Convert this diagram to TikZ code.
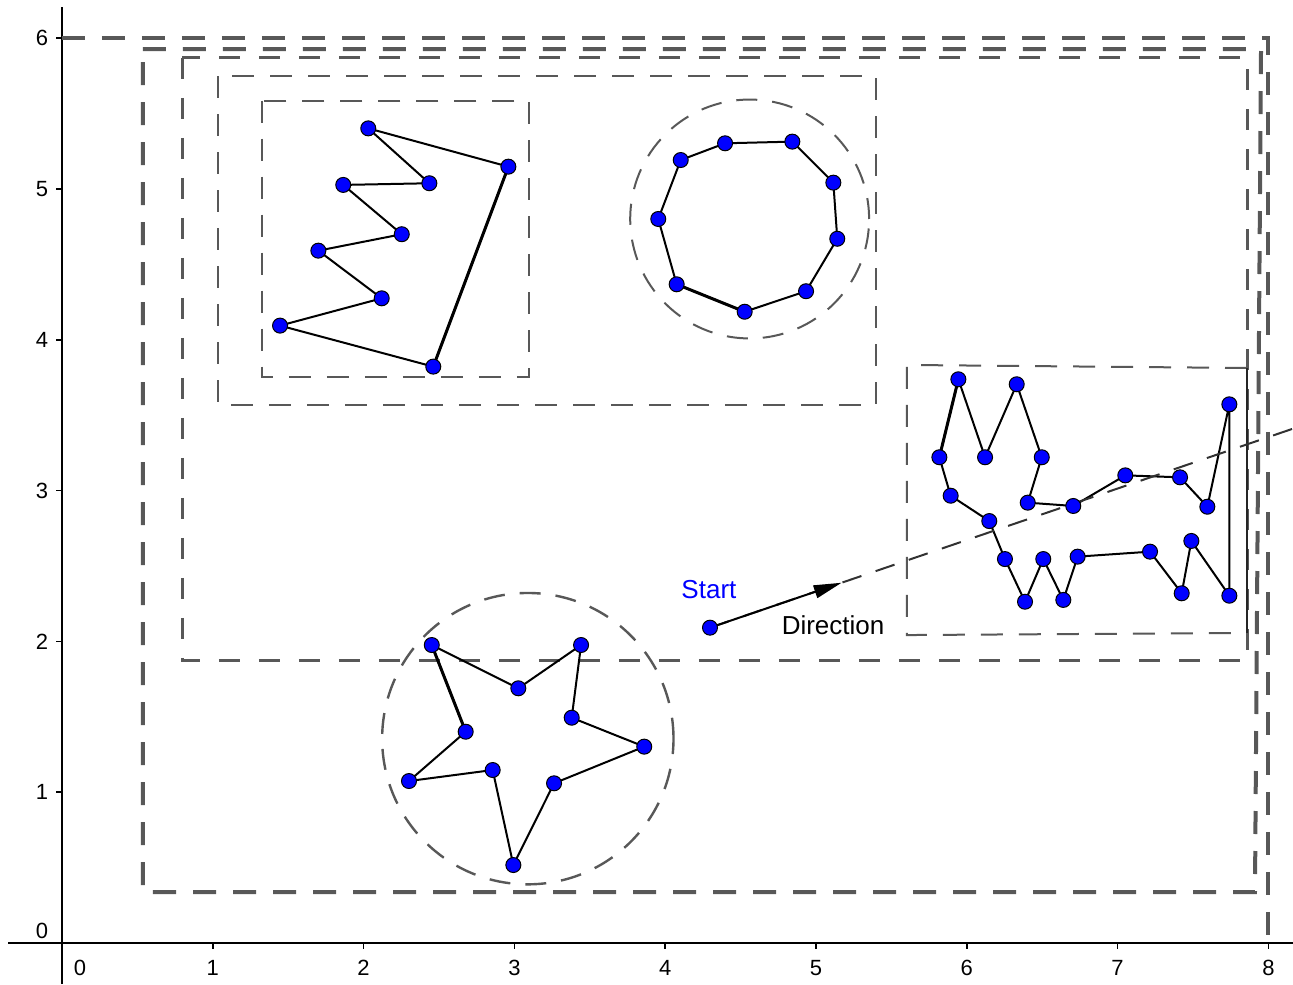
\documentclass[tikz,border=0pt]{standalone}
\usepackage{fontspec}
\setmainfont{Liberation Sans}
\usetikzlibrary{arrows.meta}
\definecolor{dgray}{RGB}{88,88,88}
\definecolor{raygray}{RGB}{50,50,50}
\definecolor{ptblue}{RGB}{0,0,255}
\begin{document}
\begin{tikzpicture}[x=150.8pt,y=150.8pt,
  frameA/.style={draw=dgray,line width=4pt,dash pattern=on 23pt off 17pt},
  frameB/.style={draw=dgray,line width=3pt,dash pattern=on 21pt off 19pt},
  frameC/.style={draw=dgray,line width=2pt,dash pattern=on 22pt off 16pt},
  ring/.style={draw=dgray,line width=2pt,dash pattern=on 21pt off 15pt},
  raystyle/.style={draw=raygray,line width=2pt,dash pattern=on 20pt off 15pt},
  pline/.style={draw=black,line width=2pt,line join=round},
  boldline/.style={draw=black,line width=3pt},
  dot/.style={circle,fill=ptblue,draw=black,line width=1pt,minimum size=15pt,inner sep=0pt},
  axisline/.style={draw=black,line width=1.8pt},
  axtick/.style={draw=black,line width=1.5pt},
  ticklabel/.style={font=\fontsize{22}{24}\selectfont,text=black,inner sep=0pt},
  txtlabel/.style={font=\fontsize{26}{28}\selectfont,inner sep=0pt},
]
\useasboundingbox (-0.4111,-0.2719) rectangle (8.1631,6.2533);

% axes
\coordinate (xa0) at (-0.358,0);
\coordinate (xa1) at (8.1631,0);
\coordinate (ya0) at (0,-0.2719);
\coordinate (ya1) at (0,6.207);
\draw[axisline] (xa0) -- (xa1);
\draw[axisline] (ya0) -- (ya1);
\foreach \k in {1,...,8} {
  \draw[axtick] (\k,0) -- (\k,-0.04);
  \node[ticklabel] (xl\k) at (\k,-0.166) {\k};
}
\node[ticklabel] (xl0) at (0.119,-0.166) {0};
\foreach \k in {1,...,6} {
  \draw[axtick] (0,\k) -- (-0.04,\k);
  \node[ticklabel] (yl\k) at (-0.133,\k) {\k};
}
\node[ticklabel] (yl0) at (-0.133,0.08) {0};

% frames
\coordinate (fa1) at (0,6);
\coordinate (fa2) at (8,6);
\coordinate (fa3) at (8,0);
\draw[frameA] (fa1) -- (fa2) -- (fa3);

\coordinate (fb1) at (0.537,5.928);
\coordinate (fb2) at (7.951,5.928);
\coordinate (fb3) at (7.911,0.338);
\coordinate (fb4) at (0.537,0.338);
\draw[frameA] (fb1) -- (fb2) -- (fb3) -- (fb4) -- cycle;

\coordinate (fc1) at (0.796,5.869);
\coordinate (fc3) at (7.863,1.870);
\draw[frameB] (fc1) rectangle (fc3);

\coordinate (fd1) at (1.034,5.749);
\coordinate (fd3) at (5.398,3.568);
\draw[frameC] (fd1) rectangle (fd3);

\coordinate (fe1) at (1.324,5.586);
\coordinate (fe3) at (3.099,3.751);
\draw[frameC] (fe1) rectangle (fe3);

\coordinate (rb1) at (5.603,3.833);
\coordinate (rb2) at (7.858,3.813);
\coordinate (rb3) at (7.858,2.056);
\coordinate (rb4) at (5.603,2.042);
\draw[frameC] (rb2) -- (rb1) -- (rb4) -- (rb3);
\draw[draw=black!85,line width=1.5pt] (rb2) -- (rb3);

% circles
\coordinate (c1) at (4.560,4.801);
\draw[ring] (c1) circle (0.792);
\coordinate (c2) at (3.089,1.355);
\draw[ring,line width=2.4pt] (c2) circle (0.966);

% polygon P
\coordinate (p1) at (2.031,5.402);
\coordinate (p2) at (2.960,5.148);
\coordinate (p3) at (2.462,3.822);
\coordinate (p4) at (1.446,4.094);
\coordinate (p5) at (2.120,4.275);
\coordinate (p6) at (1.700,4.591);
\coordinate (p7) at (2.253,4.700);
\coordinate (p8) at (1.865,5.027);
\coordinate (p9) at (2.436,5.038);
\draw[pline] (p1) -- (p2) -- (p3) -- (p4) -- (p5) -- (p6) -- (p7) -- (p8) -- (p9) -- cycle;
\draw[boldline] (p2) -- (p3);

% polygon Q
\coordinate (q1) at (4.397,5.303);
\coordinate (q2) at (4.843,5.314);
\coordinate (q3) at (5.115,5.042);
\coordinate (q4) at (5.141,4.670);
\coordinate (q5) at (4.934,4.322);
\coordinate (q6) at (4.527,4.186);
\coordinate (q7) at (4.076,4.368);
\coordinate (q8) at (3.954,4.801);
\coordinate (q9) at (4.103,5.192);
\draw[pline] (q1) -- (q2) -- (q3) -- (q4) -- (q5) -- (q6) -- (q7) -- (q8) -- (q9) -- cycle;
\draw[boldline] (q6) -- (q7);

% star S
\coordinate (s1) at (2.452,1.976);
\coordinate (s2) at (3.026,1.689);
\coordinate (s3) at (3.442,1.976);
\coordinate (s4) at (3.380,1.494);
\coordinate (s5) at (3.861,1.302);
\coordinate (s6) at (3.263,1.059);
\coordinate (s7) at (2.993,0.517);
\coordinate (s8) at (2.856,1.147);
\coordinate (s9) at (2.301,1.074);
\coordinate (s10) at (2.677,1.401);
\draw[pline] (s1) -- (s2) -- (s3) -- (s4) -- (s5) -- (s6) -- (s7) -- (s8) -- (s9) -- (s10) -- cycle;
\draw[boldline] (s10) -- (s1);

% polygon R
\coordinate (r1) at (5.944,3.738);
\coordinate (r2) at (6.121,3.221);
\coordinate (r3) at (6.331,3.705);
\coordinate (r4) at (6.497,3.221);
\coordinate (r5) at (6.404,2.920);
\coordinate (r6) at (6.706,2.898);
\coordinate (r7) at (7.051,3.101);
\coordinate (r8) at (7.414,3.088);
\coordinate (r9) at (7.595,2.893);
\coordinate (r10) at (7.741,3.572);
\coordinate (r11) at (7.741,2.303);
\coordinate (r12) at (7.489,2.666);
\coordinate (r13) at (7.425,2.319);
\coordinate (r14) at (7.215,2.595);
\coordinate (r15) at (6.735,2.562);
\coordinate (r16) at (6.640,2.275);
\coordinate (r17) at (6.507,2.546);
\coordinate (r18) at (6.386,2.263);
\coordinate (r19) at (6.253,2.546);
\coordinate (r20) at (6.149,2.798);
\coordinate (r21) at (5.893,2.966);
\coordinate (r22) at (5.818,3.221);
\draw[pline] (r1) -- (r2) -- (r3) -- (r4) -- (r5) -- (r6) -- (r7) -- (r8) -- (r9) -- (r10) -- (r11) -- (r12) -- (r13) -- (r14) -- (r15) -- (r16) -- (r17) -- (r18) -- (r19) -- (r20) -- (r21) -- (r22) -- cycle;
\draw[boldline] (r22) -- (r1);

% ray and vector
\coordinate (start) at (4.297,2.091);
\coordinate (tip) at (5.170,2.389);
\coordinate (rayend) at (8.17,3.413);
\draw[raystyle] (start) -- (rayend);
\draw[pline,-{Triangle[length=28pt,width=13pt]}] (start) -- (tip);
\node[txtlabel,text=ptblue] (startlabel) at (4.290,2.347) {Start};
\node[txtlabel,text=black] (dirlabel) at (5.113,2.109) {Direction};

% dots
\foreach \n in {p1,p2,p3,p4,p5,p6,p7,p8,p9,q1,q2,q3,q4,q5,q6,q7,q8,q9,s1,s2,s3,s4,s5,s6,s7,s8,s9,s10,r1,r2,r3,r4,r5,r6,r7,r8,r9,r10,r11,r12,r13,r14,r15,r16,r17,r18,r19,r20,r21,r22,start} {
  \node[dot] (\n-dot) at (\n) {};
}
\end{tikzpicture}
\end{document}
